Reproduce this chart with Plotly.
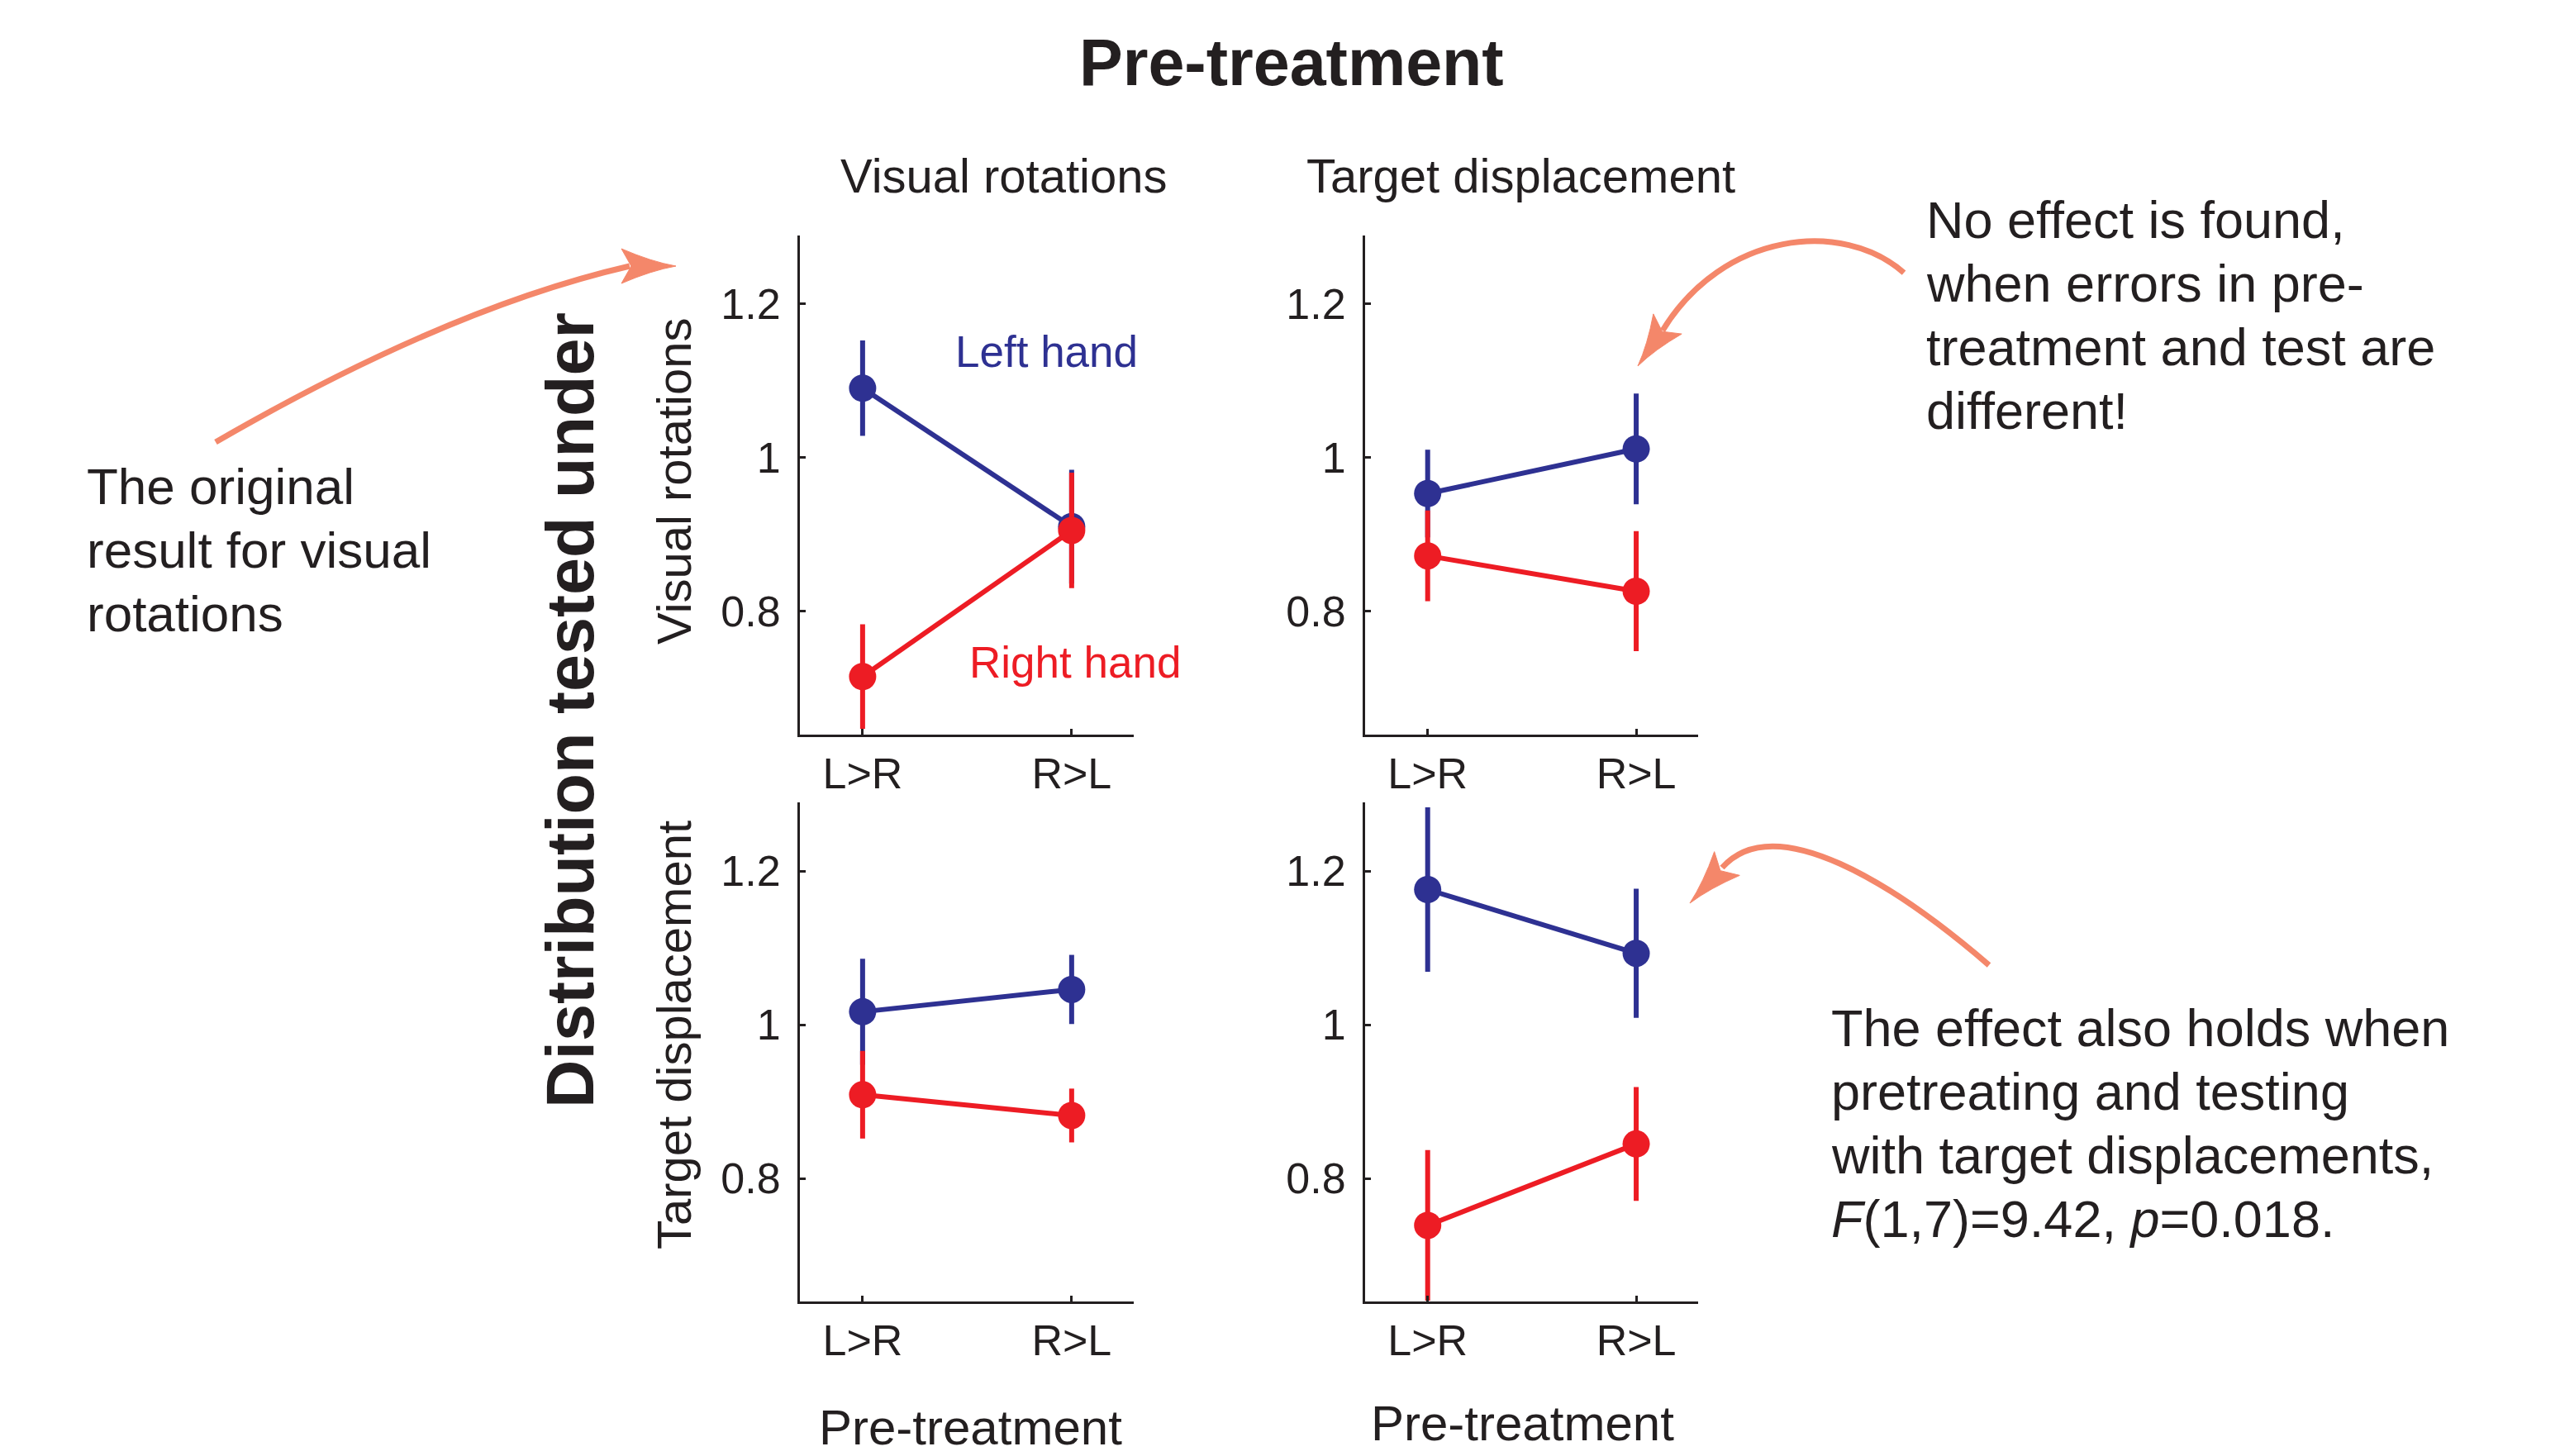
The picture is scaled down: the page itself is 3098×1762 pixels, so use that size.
import plotly.graph_objects as go

W, H = 3098, 1762

# ---------------- data ----------------
conditions = ["L>R", "R>L"]

# tested under Visual rotations (top row)
vr_pre_vr_left = [1.090, 0.910]
vr_pre_vr_left_err = [0.062, 0.074]
vr_pre_vr_right = [0.715, 0.905]
vr_pre_vr_right_err = [0.068, 0.075]

vr_pre_td_left = [0.953, 1.011]
vr_pre_td_left_err = [0.057, 0.072]
vr_pre_td_right = [0.872, 0.826]
vr_pre_td_right_err = [0.059, 0.078]

# tested under Target displacement (bottom row)
td_pre_vr_left = [1.017, 1.046]
td_pre_vr_left_err = [0.069, 0.045]
td_pre_vr_right = [0.909, 0.882]
td_pre_vr_right_err = [0.057, 0.035]

td_pre_td_left = [1.176, 1.093]
td_pre_td_left_err = [0.107, 0.084]
td_pre_td_right = [0.739, 0.845]
td_pre_td_right_err = [0.098, 0.074]

y_tickvals = [0.8, 1.0, 1.2]
y_ticktext = ["0.8", "1", "1.2"]

# ---------------- styling ----------------
BLUE = "#2E3192"
RED = "#ED1C24"
INK = "#231F20"
ARROW = "#F4876A"
FONT = "Liberation Sans, Arial, sans-serif"


def px(x):
    return x / W


def py(y):
    return 1 - y / H


panels = [
    ("x", "y", vr_pre_vr_left, vr_pre_vr_left_err, vr_pre_vr_right, vr_pre_vr_right_err),
    ("x2", "y2", vr_pre_td_left, vr_pre_td_left_err, vr_pre_td_right, vr_pre_td_right_err),
    ("x3", "y3", td_pre_vr_left, td_pre_vr_left_err, td_pre_vr_right, td_pre_vr_right_err),
    ("x4", "y4", td_pre_td_left, td_pre_td_left_err, td_pre_td_right, td_pre_td_right_err),
]

fig = go.Figure()
for xa, ya, lv, le, rv, re in panels:
    for vals, errs, col, name in ((lv, le, BLUE, "Left hand"), (rv, re, RED, "Right hand")):
        fig.add_trace(go.Scatter(
            x=conditions, y=vals, xaxis=xa, yaxis=ya, name=name,
            mode="lines+markers",
            line=dict(color=col, width=6),
            marker=dict(color=col, size=33),
            error_y=dict(type="data", array=errs, visible=True, width=0,
                         thickness=6, color=col),
            showlegend=False, hoverinfo="skip",
        ))

col_domains = [[px(968), px(1372)], [px(1652), px(2055)]]
row_domains = [[py(888.6), py(284.5)], [py(1575), py(971.4)]]

axis_common = dict(showline=True, linecolor=INK, linewidth=3, showgrid=False,
                   zeroline=False, ticks="inside", ticklen=7, tickwidth=3,
                   tickcolor=INK, tickfont=dict(family=FONT, size=52, color=INK))

layout = dict(
    width=W, height=H, margin=dict(l=0, r=0, t=0, b=0),
    paper_bgcolor="white", plot_bgcolor="white",
    showlegend=False,
)
ids = [("", 0, 0), ("2", 0, 1), ("3", 1, 0), ("4", 1, 1)]
for sid, r, c in ids:
    layout["xaxis" + sid] = dict(axis_common, domain=col_domains[c],
                                 anchor="y" + sid, type="category",
                                 range=[-0.3, 1.297], ticklabelstandoff=0)
    layout["yaxis" + sid] = dict(axis_common, domain=row_domains[r],
                                 anchor="x" + sid, range=[0.64, 1.289],
                                 tickvals=y_tickvals, ticktext=y_ticktext,
                                 ticklabelstandoff=10)
fig.update_layout(**layout)


def note(text, x, y, size, xanchor="center", bold=False, color=INK, angle=0):
    if bold:
        text = "<b>" + text + "</b>"
    fig.add_annotation(text=text, x=px(x), y=py(y), xref="paper", yref="paper",
                       showarrow=False, xanchor=xanchor, yanchor="middle",
                       textangle=angle,
                       font=dict(family=FONT, size=size, color=color))


note("Pre-treatment", 1563, 75, 79, bold=True)
note("Visual rotations", 1215, 212, 58)
note("Target displacement", 1840, 212, 58)
note("Visual rotations", 815, 582, 58, angle=-90)
note("Target displacement", 815, 1253, 58, angle=-90)
note("Distribution tested under", 690, 860, 81, bold=True, angle=-90)
note("Left hand", 1266, 425, 53, color=BLUE)
note("Right hand", 1301, 801, 53, color=RED)
note("Pre-treatment", 1174, 1727, 60)
note("Pre-treatment", 1843, 1722, 60)

left_lines = ["The original", "result for visual", "rotations"]
for i, t in enumerate(left_lines):
    note(t, 103, 588.5 + 77 * i, 62, xanchor="left")

top_lines = ["No effect is found,", "when errors in pre-",
             "treatment and test are", "different!"]
for i, t in enumerate(top_lines):
    note(t, 2329, 266 + 77 * i, 63, xanchor="left")

bot_lines = ["The effect also holds when", "pretreating and testing",
             "with target displacements,",
             "<i>F</i>(1,7)=9.42, <i>p</i>=0.018."]
for i, t in enumerate(bot_lines):
    note(t, 2214, 1244 + 77 * i, 63, xanchor="left")


# ---------------- curved arrows (decorations) ----------------
def P(x, y):
    return f"{px(x):.5f},{py(y):.5f}"


def curve(points):
    (x0, y0), rest = points[0], points[1:]
    cmd = "Q" if len(rest) == 2 else "C"
    return f"M {P(x0, y0)} {cmd} " + " ".join(P(x, y) for x, y in rest)


def head(tip, base, half_w):
    tx, ty = tip
    bx, by = base
    dx, dy = tx - bx, ty - by
    L = (dx * dx + dy * dy) ** 0.5
    ux, uy = dx / L, dy / L
    nx, ny = -uy, ux
    w1 = (bx + nx * half_w, by + ny * half_w)
    w2 = (bx - nx * half_w, by - ny * half_w)
    notch = (bx + ux * 0.18 * L, by + uy * 0.18 * L)
    mid1 = (bx + ux * 0.55 * L + nx * half_w * 0.25, by + uy * 0.55 * L + ny * half_w * 0.25)
    mid2 = (bx + ux * 0.55 * L - nx * half_w * 0.25, by + uy * 0.55 * L - ny * half_w * 0.25)
    return (f"M {P(*tip)} Q {P(*mid1)} {P(*w1)} L {P(*notch)} L {P(*w2)} "
            f"Q {P(*mid2)} {P(*tip)} Z")


arrows = [
    dict(curve=[(261, 535), (541, 373), (762, 322)], tip=(818, 322), base=(752, 322), w=21),
    dict(curve=[(2304, 330), (2230, 265), (2085, 280), (2012, 400)], tip=(1982, 443), base=(2018, 392), w=21),
    dict(curve=[(2407, 1168), (2293, 1070), (2148, 978), (2084, 1050)], tip=(2045, 1093), base=(2090, 1045), w=21),
]
for a in arrows:
    fig.add_shape(type="path", path=curve(a["curve"]), xref="paper", yref="paper",
                  line=dict(color=ARROW, width=7), fillcolor="rgba(0,0,0,0)", layer="above")
    fig.add_shape(type="path", path=head(a["tip"], a["base"], a["w"]), xref="paper",
                  yref="paper", line=dict(color=ARROW, width=1), fillcolor=ARROW,
                  layer="above")

fig.write_html("out.html", config={"displayModeBar": False},
               post_script="document.body.style.margin='0';document.body.style.overflow='hidden';")
